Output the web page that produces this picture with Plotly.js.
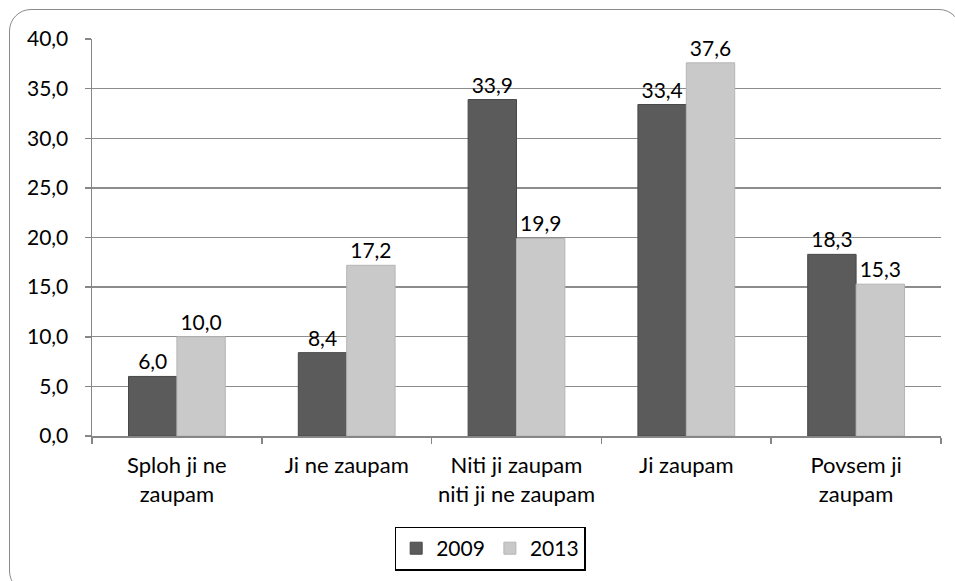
<!DOCTYPE html>
<html>
<head>
<meta charset="utf-8">
<script src="https://cdn.plot.ly/plotly-3.0.1.min.js"></script>
<style>
  html, body { margin: 0; padding: 0; background: #fff; overflow: hidden; }
  #wrap { position: relative; width: 955px; height: 581px; overflow: hidden; }
  #chart { width: 955px; height: 581px; }
  #frame { position: absolute; left: 9px; top: 9px; width: 952px; height: 584px;
           border: 1.5px solid #8a8a8a; border-radius: 22px; box-sizing: border-box; pointer-events: none; }
</style>
</head>
<body>
<div id="wrap">
  <div id="chart"></div>
  <div id="frame"></div>
</div>
<script>
const categories = ['Sploh ji ne<br>zaupam', 'Ji ne zaupam', 'Niti ji zaupam<br>niti ji ne zaupam', 'Ji zaupam', 'Povsem ji<br>zaupam'];
const seriesNames = ['2009', '2013'];
const values2009 = [6.0, 8.4, 33.9, 33.4, 18.3];
const values2013 = [10.0, 17.2, 19.9, 37.6, 15.3];
const yTicks = [0, 5, 10, 15, 20, 25, 30, 35, 40];

const FONT = 'Lato, "Open Sans", sans-serif';
const FS = 21;

function barTrace(name, ys, fill, edge) {
  return {
    type: 'bar', name: name, x: categories, y: ys,
    marker: { color: fill, line: { color: edge, width: 1 } },
    texttemplate: '%{y:.1f}', textposition: 'outside', cliponaxis: false,
    textfont: { family: FONT, size: FS, color: '#000' },
    hoverinfo: 'skip'
  };
}

const data = [
  barTrace(seriesNames[0], values2009, '#5b5b5b', '#484848'),
  barTrace(seriesNames[1], values2013, '#c9c9c9', '#b5b5b5')
];

const layout = {
  width: 955, height: 581,
  margin: { l: 92, r: 14, t: 39, b: 144 },
  paper_bgcolor: 'rgba(0,0,0,0)', plot_bgcolor: '#fff',
  separators: ', ',
  font: { family: FONT, size: FS, color: '#000' },
  barmode: 'group', bargap: 0.43, bargroupgap: 0,
  showlegend: true,
  legend: {
    orientation: 'h', x: 0.469, xanchor: 'center', y: -0.225, yanchor: 'top',
    bordercolor: '#000', borderwidth: 1.5, bgcolor: '#fff',
    font: { family: FONT, size: FS, color: '#000' },
    itemwidth: 30, tracegroupgap: 0
  },
  xaxis: {
    type: 'category', showgrid: false, zeroline: false,
    showline: true, linecolor: '#868686', linewidth: 1.5,
    ticks: 'outside', tickson: 'boundaries', ticklen: 6, tickcolor: '#868686', tickwidth: 1.5,
    tickfont: { family: FONT, size: 22, color: '#000' },
    ticklabelstandoff: 9
  },
  yaxis: {
    range: [0, 40], tickvals: yTicks, tickformat: '.1f',
    showgrid: true, gridcolor: '#8c8c8c', gridwidth: 1.3, zeroline: false,
    showline: true, linecolor: '#868686', linewidth: 1.5,
    ticks: 'outside', ticklen: 6, tickcolor: '#868686', tickwidth: 1.5,
    tickfont: { family: FONT, size: FS, color: '#000' },
    ticklabelstandoff: 12
  }
};

Plotly.newPlot('chart', data, layout, { displayModeBar: false, staticPlot: true });
</script>
</body>
</html>
